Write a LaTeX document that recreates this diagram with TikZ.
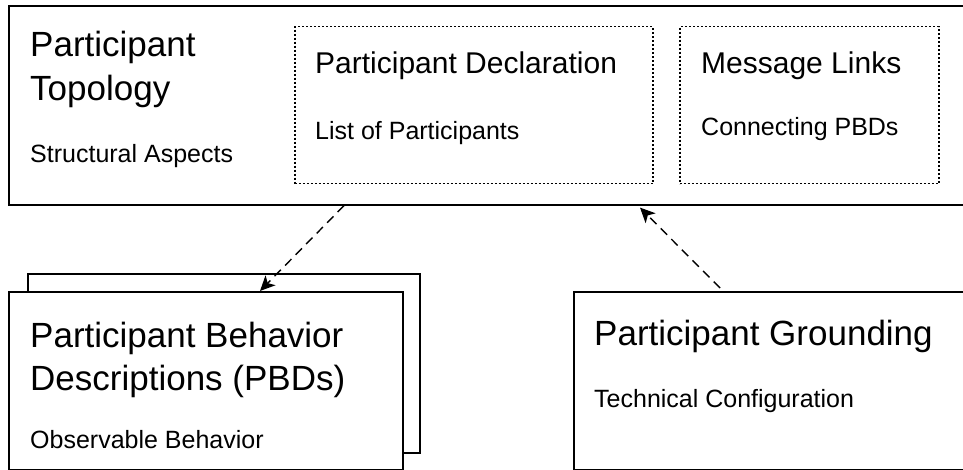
\documentclass[tikz,border=0pt]{standalone}
\usepackage{fontspec}
\setmainfont{Liberation Sans}
\usetikzlibrary{arrows.meta}

\tikzset{
  box/.style={draw=black, line width=1.6pt, fill=white, inner sep=0pt,
    anchor=north west},
  region/.style={draw=black, line width=1.5pt, dash pattern=on 1.8pt off 2.2pt,
    inner sep=0pt, anchor=north west},
  bigtext/.style={font=\fontsize{35}{42}\selectfont, anchor=base west, inner sep=0pt},
  midtext/.style={font=\fontsize{30}{36}\selectfont, anchor=base west, inner sep=0pt},
  smalltext/.style={font=\fontsize{25}{30}\selectfont, anchor=base west, inner sep=0pt},
  dep/.style={line width=1.4pt, dash pattern=on 9pt off 6pt,
    -{Stealth[length=15pt, width=14pt, inset=4pt]}},
}

\begin{document}
\begin{tikzpicture}[x=1pt, y=-1pt]
\useasboundingbox (0,0) rectangle (963,470);
\clip (0,0) rectangle (963,470);

% topology frame with its two embedded regions
\node[box, minimum width=967pt, minimum height=199pt] (topo) at (8,5) {};
\node[region, minimum width=358pt, minimum height=157pt] (decl) at (294,26) {};
\node[region, minimum width=259pt, minimum height=157pt] (links) at (679,26) {};

\node[bigtext] (topoA) at (30,57) {Participant};
\node[bigtext] (topoB) at (30,101) {Topology};
\node[smalltext] (topoC) at (30,163) {Structural Aspects};

\node[midtext] (declA) at (315,74) {Participant Declaration};
\node[smalltext] (declB) at (315,140) {List of Participants};

\node[midtext] (linksA) at (701,74) {Message Links};
\node[smalltext] (linksB) at (701,136) {Connecting PBDs};

% stacked behaviour descriptions
\node[box, minimum width=392pt, minimum height=179pt] (pbdback) at (27,273) {};
\node[box, minimum width=394pt, minimum height=178pt] (pbd) at (8,291) {};
\node[bigtext] (pbdA) at (30,347) {Participant Behavior};
\node[bigtext] (pbdB) at (30,390) {Descriptions (PBDs)};
\node[smalltext] (pbdC) at (30,448) {Observable Behavior};

% grounding
\node[box, minimum width=402pt, minimum height=178pt] (ground) at (573,291) {};
\node[bigtext] (groundA) at (594,345) {Participant Grounding};
\node[smalltext] (groundB) at (594,407) {Technical Configuration};

% dependencies
\draw[dep] ([xshift=336pt]topo.south west) -- ([xshift=252pt]pbd.north west);
\draw[dep] ([xshift=147pt,yshift=3pt]ground.north west) -- ([xshift=632pt,yshift=-2pt]topo.south west);
\end{tikzpicture}
\end{document}
